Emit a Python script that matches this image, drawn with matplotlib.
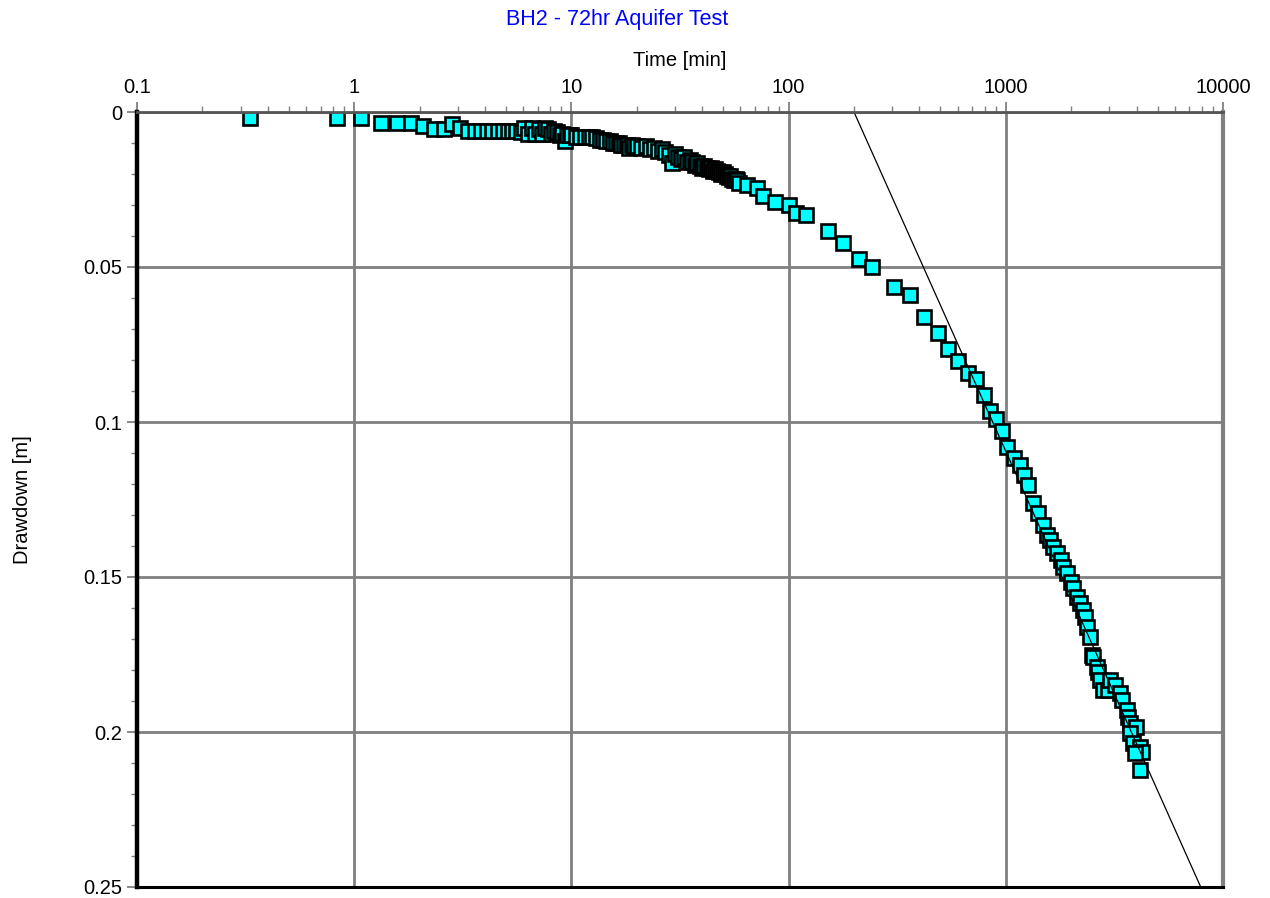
import numpy as np
import matplotlib
matplotlib.use("Agg")
import matplotlib.pyplot as plt
from matplotlib.ticker import LogLocator, MultipleLocator, NullFormatter

plt.rcParams['font.family'] = ['Liberation Sans', 'DejaVu Sans']

# Observed drawdown, BH2 72 hr constant-rate test
time_min = [
    0.33, 0.83, 1.08, 1.33, 1.58, 1.83, 2.08, 2.33, 2.58, 2.83,
    3.08, 3.33, 3.58, 3.83, 4.08, 4.33, 4.58, 4.83, 5.08, 5.33,
    5.58, 5.83, 6.08, 6.33, 6.58, 6.83, 7.08, 7.33, 7.58, 7.83,
    8.08, 8.33, 8.58, 8.83, 9.08, 9.33, 9.58, 9.83,
    10.0, 10.5, 11.0, 11.5, 12.0, 12.5, 13.0, 13.5, 14.0, 14.5,
    15.0, 15.5, 16.0, 16.5, 17.0, 17.5, 18.0, 18.5, 19.0, 19.5,
    20, 21, 22, 23, 24, 25, 26, 27, 28, 29,
    30, 31, 32, 33, 34, 35, 36, 37, 38, 39,
    40, 41, 42, 43, 44, 45, 46, 47, 48, 49,
    50, 51, 52, 53, 54, 55, 56, 57, 58, 59,
    64, 71.5, 76, 87, 100, 108, 120, 152, 178, 211,
    242, 306, 362, 420, 487, 542, 603, 670, 729, 794,
    846, 902, 961, 1013, 1091, 1163, 1213, 1265, 1334, 1407,
    1484, 1548, 1598, 1649, 1720, 1795, 1834, 1913, 1996, 2039,
    2127, 2196, 2267, 2316, 2365, 2442, 2494, 2520, 2630, 2658,
    2714, 2803, 2954, 3018, 3183, 3356, 3428, 3614, 3653, 3731,
    3977, 3740, 3851, 4148, 4238, 3934, 4150,
]
drawdown_m = [
    0.002, 0.002, 0.002, 0.0035, 0.0035, 0.0035, 0.0045, 0.0055, 0.0055, 0.004,
    0.005, 0.006, 0.006, 0.006, 0.006, 0.006, 0.006, 0.006, 0.006, 0.006,
    0.006, 0.0065, 0.005, 0.007, 0.005, 0.007, 0.0055, 0.007, 0.005, 0.0055,
    0.007, 0.006, 0.0065, 0.0075, 0.007, 0.0095, 0.0075, 0.0075,
    0.0075, 0.008, 0.008, 0.008, 0.008, 0.008, 0.0085, 0.009, 0.009, 0.0095,
    0.0095, 0.010, 0.010, 0.010, 0.0105, 0.0105, 0.0105, 0.0115, 0.0105, 0.011,
    0.011, 0.0115, 0.011, 0.012, 0.0115, 0.0125, 0.012, 0.013, 0.014, 0.0165,
    0.0135, 0.0145, 0.015, 0.0145, 0.016, 0.0155, 0.016, 0.017, 0.0165, 0.0175,
    0.018, 0.0175, 0.018, 0.0185, 0.018, 0.019, 0.0185, 0.019, 0.0195, 0.020,
    0.0195, 0.020, 0.0205, 0.021, 0.0205, 0.0215, 0.022, 0.0215, 0.022, 0.023,
    0.0235, 0.0245, 0.027, 0.029, 0.030, 0.0326, 0.0332, 0.0384, 0.0423, 0.0474,
    0.050, 0.0565, 0.059, 0.0661, 0.0713, 0.0765, 0.0803, 0.0842, 0.0861, 0.0913,
    0.0965, 0.099, 0.1029, 0.1081, 0.1116, 0.1139, 0.1171, 0.1203, 0.1261, 0.1294,
    0.1332, 0.1365, 0.1381, 0.1403, 0.1423, 0.1445, 0.1468, 0.1487, 0.1516, 0.1535,
    0.1565, 0.1584, 0.1606, 0.1629, 0.1661, 0.1694, 0.1752, 0.1758, 0.179, 0.1806,
    0.1832, 0.1865, 0.1865, 0.1832, 0.1848, 0.1874, 0.1897, 0.1929, 0.1952, 0.1971,
    0.1984, 0.2003, 0.2035, 0.2048, 0.2065, 0.2068, 0.2123,
]

# Cooper-Jacob straight-line fit: s = ds * log10(t / t0)
fit_t0 = 200.0
fit_ds = 0.1566

x_ticks = [0.1, 1, 10, 100, 1000, 10000]
x_tick_labels = ['0.1', '1', '10', '100', '1000', '10000']
y_ticks = [0, 0.05, 0.1, 0.15, 0.2, 0.25]
y_tick_labels = ['0', '0.05', '0.1', '0.15', '0.2', '0.25']

W, H = 1270, 898
fig = plt.figure(figsize=(W / 100, H / 100), dpi=100)
ax = fig.add_axes([137 / W, 1 - 887 / H, (1223 - 137) / W, (887 - 112) / H])

ax.set_xscale('log')
ax.set_xlim(0.1, 10000)
ax.set_ylim(0.25, 0)

ax.xaxis.tick_top()
ax.set_xticks(x_ticks)
ax.set_xticklabels(x_tick_labels)
ax.xaxis.set_minor_locator(LogLocator(base=10, subs=np.arange(2, 10)))
ax.xaxis.set_minor_formatter(NullFormatter())
ax.set_yticks(y_ticks)
ax.set_yticklabels(y_tick_labels)
ax.yaxis.set_minor_locator(MultipleLocator(0.01))

ax.tick_params(which='major', length=7.5, width=1.3, color='#808080',
               labelsize=14.5, pad=3)
ax.tick_params(which='minor', length=4, width=1.0, color='#808080')
ax.tick_params(axis='x', which='both', top=True, bottom=False)

ax.grid(which='major', color='#808080', linewidth=2, zorder=0)
ax.set_axisbelow(True)

for side, col, lw in [('left', 'black', 3.2), ('bottom', 'black', 2.2),
                      ('top', '#555555', 2.0), ('right', '#808080', 3.0)]:
    ax.spines[side].set_color(col)
    ax.spines[side].set_linewidth(lw)
    ax.spines[side].set_zorder(5)

ax.plot(time_min, drawdown_m, linestyle='none', marker='s', markersize=9.5,
        markerfacecolor='#00FFFF', markeredgecolor='black',
        markeredgewidth=1.9, zorder=3)

t_fit = np.array([fit_t0, 10000.0])
s_fit = fit_ds * np.log10(t_fit / fit_t0)
ax.plot(t_fit, s_fit, color='black', linewidth=0.9, zorder=4)

fig.text(617 / W, 1 - 20 / H, 'BH2 - 72hr Aquifer Test', color='#0000FF',
         fontsize=15.5, ha='center', va='center')
fig.text(680 / W, 1 - 60 / H, 'Time [min]', fontsize=14.5,
         ha='center', va='center')
fig.text(23 / W, 1 - 500 / H, 'Drawdown [m]', fontsize=14.5, rotation=90,
         ha='center', va='center')

fig.savefig('out.png', dpi=100)
